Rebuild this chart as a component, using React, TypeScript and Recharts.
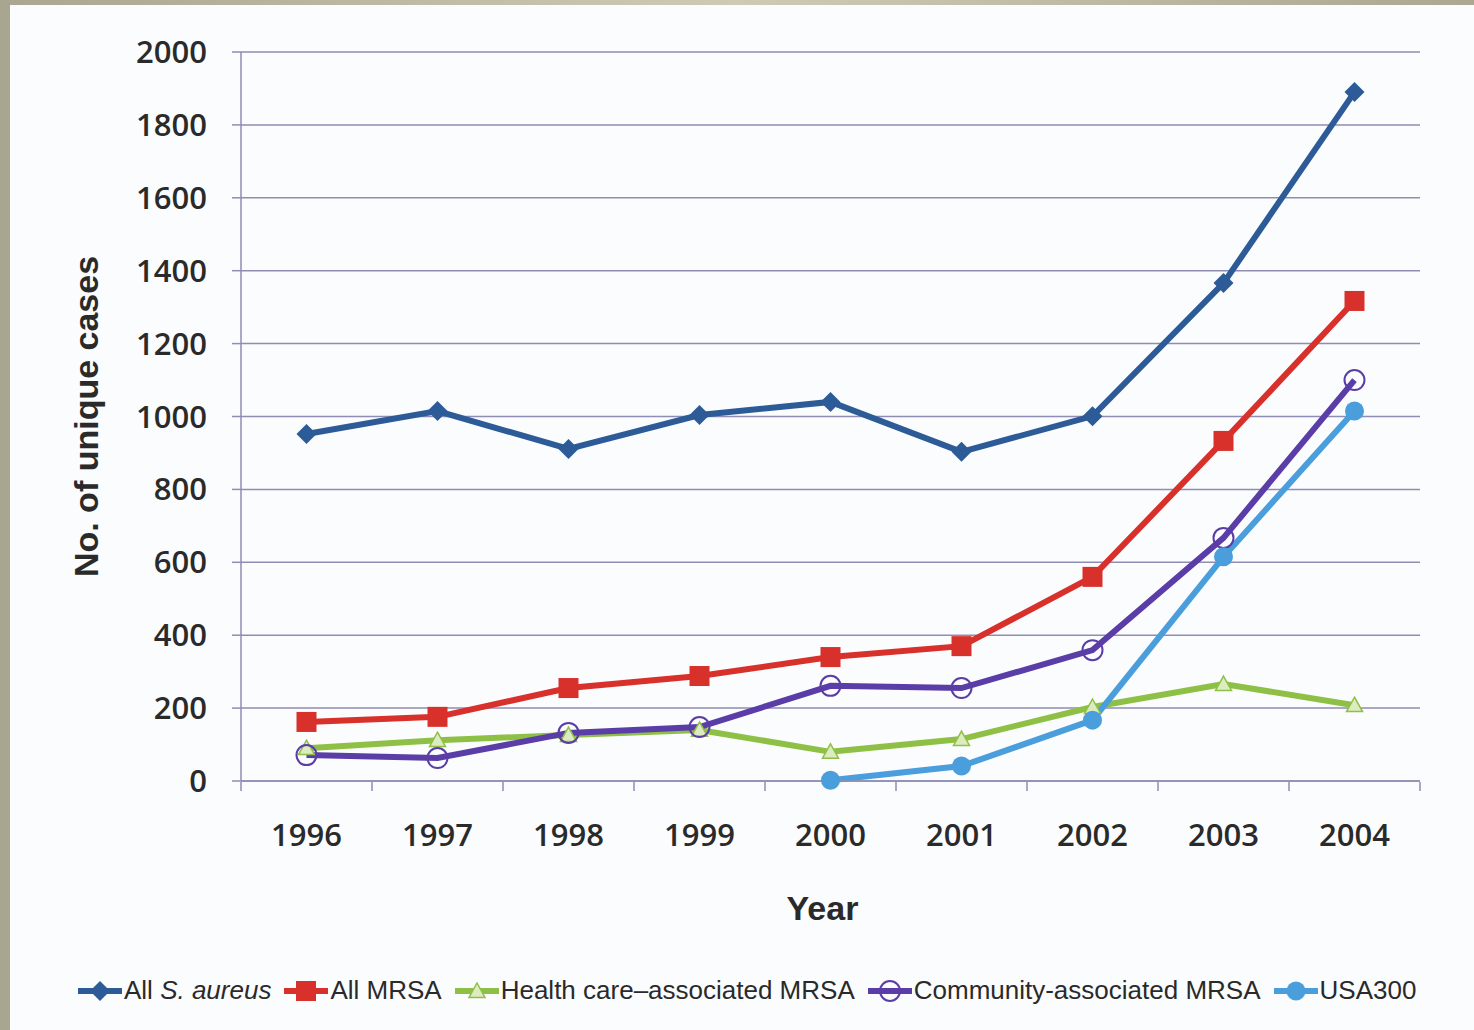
import React from 'react'
import {
  LineChart,
  Line,
  XAxis,
  YAxis,
  CartesianGrid,
  Legend,
} from 'recharts'

const years = ['1996', '1997', '1998', '1999', '2000', '2001', '2002', '2003', '2004']
const allSAureus = [952, 1015, 911, 1004, 1040, 903, 1001, 1366, 1890]
const allMrsa = [162, 176, 255, 288, 340, 370, 560, 933, 1317]
const hcaMrsa = [90, 112, 126, 140, 80, 115, 203, 266, 208]
const caMrsa = [71, 63, 132, 148, 261, 255, 359, 667, 1100]
const usa300 = [null, null, null, null, 2, 41, 167, 615, 1015]
const yTicks = [0, 200, 400, 600, 800, 1000, 1200, 1400, 1600, 1800, 2000]

const data = years.map((year, i) => ({
  year,
  idx: i,
  sa: allSAureus[i],
  mrsa: allMrsa[i],
  hca: hcaMrsa[i],
  ca: caMrsa[i],
  usa: usa300[i],
}))

// boundaries between year categories, for the little tick marks
const boundaryTicks = [...years.map((_, i) => i - 0.5), years.length - 0.5]

const C = {
  sa: '#2c5b97',
  mrsa: '#d8302b',
  hca: '#8fc046',
  ca: '#5a3da6',
  usa: '#4a9edb',
  grid: '#8f8db3',
  text: '#2a2a2a',
}

type Shape = 'diamond' | 'square' | 'triangle' | 'ring' | 'disc'

const series: { key: string; name: string; color: string; shape: Shape }[] = [
  { key: 'sa', name: 'All S. aureus', color: C.sa, shape: 'diamond' },
  { key: 'mrsa', name: 'All MRSA', color: C.mrsa, shape: 'square' },
  { key: 'hca', name: 'Health care–associated MRSA', color: C.hca, shape: 'triangle' },
  { key: 'ca', name: 'Community-associated MRSA', color: C.ca, shape: 'ring' },
  { key: 'usa', name: 'USA300', color: C.usa, shape: 'disc' },
]

function Marker({ cx, cy, shape, color, s = 1 }: { cx: number; cy: number; shape: Shape; color: string; s?: number }) {
  if (shape === 'diamond') {
    const r = 10 * s
    return <polygon points={`${cx},${cy - r} ${cx + r},${cy} ${cx},${cy + r} ${cx - r},${cy}`} fill={color} />
  }
  if (shape === 'square') {
    const r = 10 * s
    return <rect x={cx - r} y={cy - r} width={r * 2} height={r * 2} fill={color} />
  }
  if (shape === 'triangle') {
    const r = 8 * s
    return (
      <polygon
        points={`${cx},${cy - r} ${cx + r},${cy + r * 0.8} ${cx - r},${cy + r * 0.8}`}
        fill="#dcebc0"
        stroke={color}
        strokeWidth={1.5}
      />
    )
  }
  if (shape === 'ring') {
    return <circle cx={cx} cy={cy} r={10 * s} fill="none" stroke={color} strokeWidth={2} />
  }
  return <circle cx={cx} cy={cy} r={9.5 * s} fill={color} />
}

const makeDot = (shape: Shape, color: string) => (p: any) => {
  if (p.cx == null || p.cy == null || p.value == null) return <g key={`d${p.index}`} />
  return (
    <g key={`d${p.index}`}>
      <Marker cx={p.cx} cy={p.cy} shape={shape} color={color} />
    </g>
  )
}

function LegendRow() {
  return (
    <div
      style={{
        display: 'flex',
        alignItems: 'center',
        paddingLeft: 78,
        gap: 13,
        fontFamily: '"Liberation Sans", Arial, sans-serif',
        fontSize: 26,
        color: C.text,
        whiteSpace: 'nowrap',
      }}
    >
      {series.map((s) => (
        <div key={s.key} style={{ display: 'flex', alignItems: 'center', gap: 2 }}>
          <svg width={44} height={24}>
            <line x1={0} y1={12} x2={44} y2={12} stroke={s.color} strokeWidth={6} />
            <Marker cx={22} cy={12} shape={s.shape} color={s.color} s={1} />
          </svg>
          {s.key === 'sa' ? (
            <span>
              All <i>S. aureus</i>
            </span>
          ) : (
            <span>{s.name}</span>
          )}
        </div>
      ))}
    </div>
  )
}

const tickFont = { fontFamily: '"Open Sans", sans-serif', fontSize: 31, fontWeight: 600, fill: C.text }

export default function App() {
  return (
    <div style={{ position: 'fixed', left: 0, top: 0, width: 1474, height: 1030, background: '#fbfcfe', overflow: 'hidden' }}>
      <div style={{ position: 'absolute', left: 0, top: 0, width: 1474, height: 5, background: 'linear-gradient(90deg,#a9a791,#cfcab4,#aaa892)' }} />
      <div style={{ position: 'absolute', left: 0, top: 0, width: 10, height: 1030, background: '#a8a690' }} />
      <div style={{ position: 'absolute', left: 0, top: 0 }}>
        <LineChart width={1474} height={1030} data={data} margin={{ top: 52, right: 54, bottom: 247, left: 0 }}>
          <CartesianGrid vertical={false} stroke={C.grid} strokeWidth={1.5} />
          <XAxis
            xAxisId="t"
            dataKey="idx"
            type="number"
            scale="linear"
            domain={[-0.5, years.length - 0.5]}
            ticks={boundaryTicks}
            allowDataOverflow
            height={1}
            tickFormatter={() => ''}
            tickSize={9}
            tickLine={{ stroke: C.grid, strokeWidth: 1.5 }}
            axisLine={false}
          />
          <XAxis
            dataKey="year"
            scale="band"
            height={1}
            tickLine={false}
            tickSize={0}
            tickMargin={43}
            axisLine={{ stroke: C.grid, strokeWidth: 1.5 }}
            tick={tickFont}
            interval={0}
            label={(props: any) => {
              const vb = props.viewBox
              return (
                <text
                  x={vb.x + vb.width / 2 - 8}
                  y={vb.y + 127}
                  textAnchor="middle"
                  dominantBaseline="central"
                  style={{ fontFamily: '"Liberation Sans", Arial, sans-serif', fontSize: 34, fontWeight: 700, fill: C.text }}
                >
                  Year
                </text>
              )
            }}
          />
          <YAxis
            domain={[0, 2000]}
            ticks={yTicks}
            width={241}
            tickSize={9}
            tickMargin={25}
            tick={tickFont}
            tickLine={{ stroke: C.grid, strokeWidth: 1.5 }}
            axisLine={{ stroke: C.grid, strokeWidth: 1.5 }}
            interval={0}
            label={(props: any) => {
              const vb = props.viewBox
              const cx = vb.x + 86
              const cy = vb.y + vb.height / 2
              return (
                <text
                  x={cx}
                  y={cy}
                  transform={`rotate(-90 ${cx} ${cy})`}
                  textAnchor="middle"
                  dominantBaseline="central"
                  style={{ fontFamily: '"Liberation Sans", Arial, sans-serif', fontSize: 34, fontWeight: 700, fill: C.text }}
                >
                  No. of unique cases
                </text>
              )
            }}
          />
          <YAxis
            yAxisId="r"
            orientation="right"
            domain={[0, 2000]}
            width={0}
            tick={false}
            tickLine={false}
            axisLine={{ stroke: C.grid, strokeWidth: 1.5 }}
          />
          {series.map((s) => (
            <Line
              key={s.key}
              dataKey={s.key}
              name={s.name}
              stroke={s.color}
              strokeWidth={6}
              dot={makeDot(s.shape, s.color)}
              activeDot={false}
              connectNulls={false}
              isAnimationActive={false}
            />
          ))}
          <Legend
            verticalAlign="middle"
            align="center"
            content={() => <LegendRow />}
            wrapperStyle={{ top: 975, left: 0, width: 1474 }}
          />
        </LineChart>
      </div>
    </div>
  )
}
